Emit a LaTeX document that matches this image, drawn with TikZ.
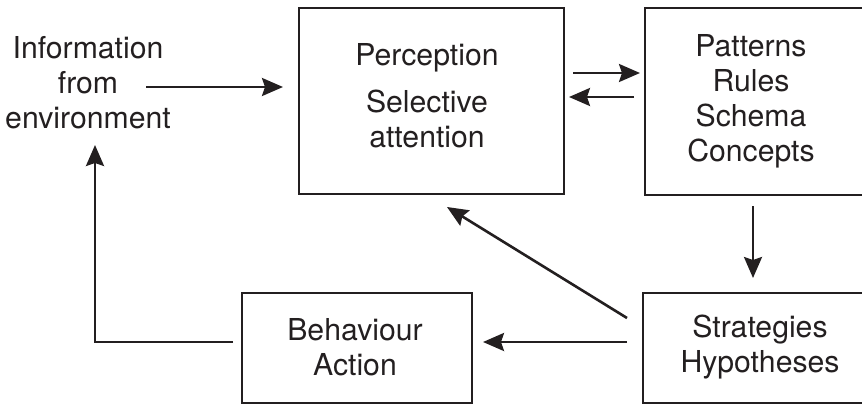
\documentclass[tikz,border=0pt]{standalone}
\usepackage{fontspec}
\setmainfont{TeX Gyre Heros}
\usetikzlibrary{arrows.meta,calc}
\definecolor{ink}{HTML}{231F20}
\tikzset{
  box/.style={draw=ink, line width=2.2pt, inner sep=0pt, outer sep=0pt},
  lbl/.style={text=ink, align=center, inner sep=0pt, outer sep=0pt,
    font=\fontsize{30.2}{35}\selectfont},
  arr/.style={draw=ink, line width=2.6pt, -{Stealth[length=21pt,width=18pt,inset=3pt]}},
}
\begin{document}
\begin{tikzpicture}[x=1pt,y=-1pt]
\useasboundingbox (0,0) rectangle (862,404);
% boxes
\node[box, minimum width=265pt, minimum height=186pt] (perc) at (431.5,101) {};
\node[box, minimum width=230pt, minimum height=187pt] (pat) at (760,101.5) {};
\node[box, minimum width=232pt, minimum height=110pt] (strat) at (759,348) {};
\node[box, minimum width=230pt, minimum height=110pt] (beh) at (357,348) {};
% texts
\node[lbl] (info) at (88,86) {\strut Information\\\strut from\\\strut environment};
\node[lbl] (perct) at (427,99) {\strut Perception\\[12pt]\strut Selective\\\strut attention};
\node[lbl] (patt) at (751,101.5) {\strut Patterns\\\strut Rules\\\strut Schema\\\strut Concepts};
\node[lbl] (stratt) at (760,347.5) {\strut Strategies\\\strut Hypotheses};
\node[lbl] (beht) at (355,350.5) {\strut Behaviour\\\strut Action};
% connectors
\draw[arr] ($(info.center)+(58,1)$) -- ($(perc.west)+(-16,-14)$);
\draw[arr] ($(perc.east)+(9,-28)$) -- ($(pat.west)+(-5,-28.5)$);
\draw[arr] ($(pat.west)+(-11,-4.5)$) -- ($(perc.east)+(5,-4)$);
\draw[arr] ($(pat.south)+(-7,11)$) -- ($(strat.north)+(-6,-15)$);
\draw[arr] ($(strat.west)+(-16,-30)$) -- ($(perc.south)+(15.5,13)$);
\draw[arr] ($(strat.west)+(-16,-6)$) -- ($(beh.east)+(11,-6)$);
\draw[arr] ($(beh.west)+(-9,-6)$) -| ($(info.center)+(7,59)$);
\end{tikzpicture}
\end{document}
